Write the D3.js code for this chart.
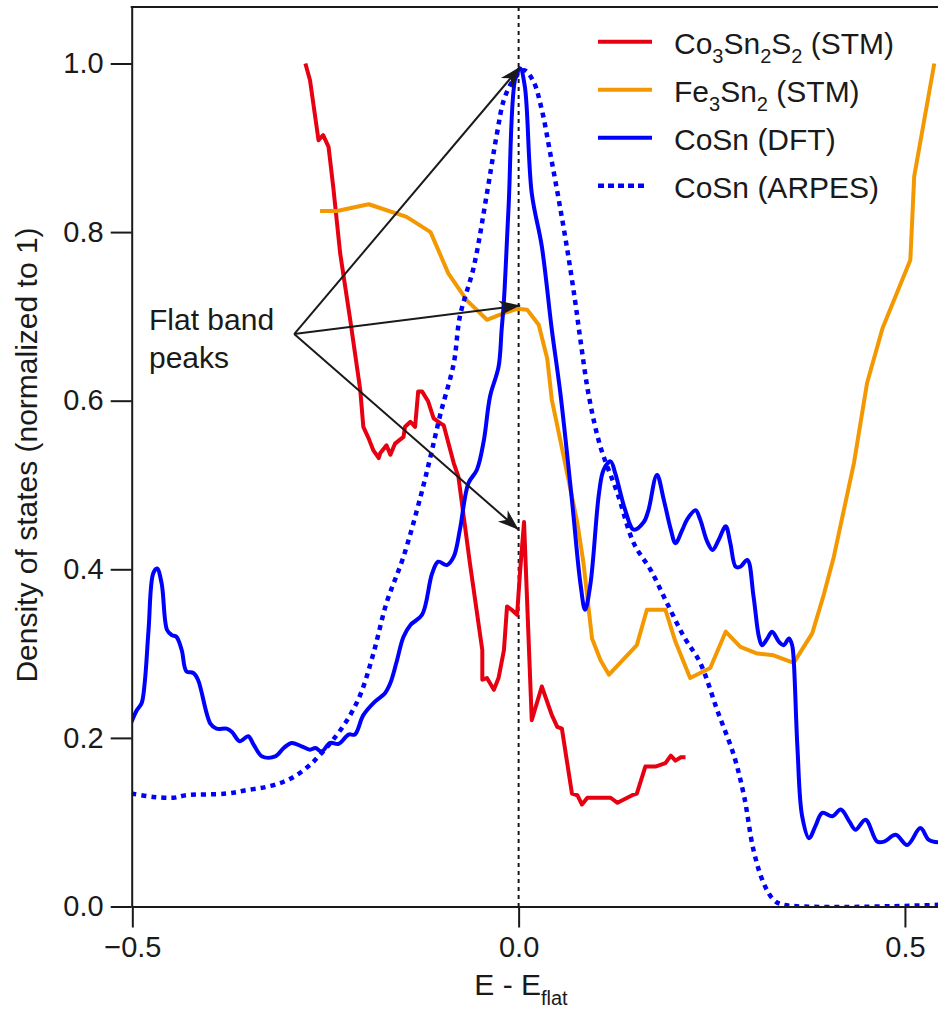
<!DOCTYPE html>
<html>
<head>
<meta charset="utf-8">
<script src="https://cdn.jsdelivr.net/npm/d3@7"></script>
<style>
    body { margin: 0; background: #fff; }
    svg { display: block; }
    text { font-family: "Liberation Sans", Arial, Helvetica, sans-serif; fill: #1a1a1a; }
</style>
</head>
<body>
<div id="chart"></div>
<script>
// [E - E_flat, DOS]
const co3sn2s2Stm = [
    [-0.276, 1.000], [-0.270, 0.980], [-0.259, 0.909], [-0.253, 0.915], [-0.246, 0.901],
    [-0.240, 0.854], [-0.231, 0.775], [-0.218, 0.696], [-0.205, 0.613], [-0.201, 0.569],
    [-0.194, 0.555], [-0.188, 0.541], [-0.181, 0.532], [-0.179, 0.538], [-0.171, 0.547],
    [-0.166, 0.536], [-0.160, 0.549], [-0.149, 0.557], [-0.147, 0.569], [-0.140, 0.575],
    [-0.134, 0.569], [-0.130, 0.611], [-0.125, 0.611], [-0.117, 0.599], [-0.110, 0.579],
    [-0.101, 0.573], [-0.097, 0.571], [-0.084, 0.526], [-0.078, 0.510], [-0.063, 0.407],
    [-0.047, 0.304], [-0.047, 0.269], [-0.041, 0.271], [-0.032, 0.257], [-0.026, 0.271],
    [-0.019, 0.304], [-0.015, 0.356], [-0.009, 0.352], [-0.002, 0.346], [0.002, 0.399],
    [0.007, 0.456], [0.017, 0.221], [0.030, 0.261], [0.043, 0.227], [0.050, 0.213],
    [0.056, 0.211], [0.069, 0.134], [0.076, 0.132], [0.082, 0.121], [0.089, 0.129],
    [0.119, 0.129], [0.128, 0.123], [0.147, 0.132], [0.153, 0.134], [0.164, 0.166],
    [0.177, 0.166], [0.190, 0.170], [0.197, 0.179], [0.203, 0.173], [0.210, 0.177],
    [0.216, 0.177]
];
const fe3sn2Stm = [
    [-0.257, 0.825], [-0.235, 0.825], [-0.194, 0.833], [-0.145, 0.818], [-0.114, 0.800],
    [-0.091, 0.751], [-0.067, 0.719], [-0.041, 0.696], [-0.024, 0.702], [-0.002, 0.709],
    [0.011, 0.708], [0.026, 0.690], [0.037, 0.650], [0.043, 0.601], [0.054, 0.553],
    [0.076, 0.455], [0.084, 0.407], [0.095, 0.318], [0.106, 0.292], [0.117, 0.275],
    [0.153, 0.310], [0.166, 0.352], [0.190, 0.352], [0.203, 0.314], [0.222, 0.271],
    [0.248, 0.283], [0.268, 0.326], [0.287, 0.308], [0.309, 0.300], [0.330, 0.298],
    [0.356, 0.289], [0.380, 0.324], [0.395, 0.370], [0.408, 0.415], [0.434, 0.526],
    [0.451, 0.621], [0.471, 0.686], [0.507, 0.767], [0.512, 0.866], [0.538, 1.000]
];
const cosnDft = [
    [-0.501, 0.219], [-0.494, 0.233], [-0.488, 0.241], [-0.484, 0.265], [-0.479, 0.328],
    [-0.473, 0.395], [-0.468, 0.401], [-0.462, 0.383], [-0.455, 0.328], [-0.449, 0.322],
    [-0.443, 0.320], [-0.436, 0.304], [-0.430, 0.279], [-0.421, 0.277], [-0.415, 0.269],
    [-0.399, 0.217], [-0.391, 0.211], [-0.378, 0.211], [-0.371, 0.207], [-0.361, 0.196],
    [-0.350, 0.202], [-0.343, 0.192], [-0.332, 0.178], [-0.315, 0.178], [-0.304, 0.188],
    [-0.294, 0.194], [-0.281, 0.190], [-0.270, 0.186], [-0.263, 0.188], [-0.255, 0.184],
    [-0.244, 0.194], [-0.233, 0.193], [-0.220, 0.204], [-0.212, 0.204], [-0.201, 0.227],
    [-0.186, 0.243], [-0.173, 0.253], [-0.166, 0.265], [-0.158, 0.290], [-0.149, 0.320],
    [-0.140, 0.334], [-0.125, 0.346], [-0.112, 0.395], [-0.104, 0.409], [-0.093, 0.405],
    [-0.084, 0.415], [-0.076, 0.447], [-0.065, 0.502], [-0.054, 0.518], [-0.045, 0.553],
    [-0.037, 0.605], [-0.026, 0.640], [-0.022, 0.684], [-0.019, 0.719], [-0.013, 0.830],
    [-0.004, 0.984], [0.002, 0.994], [0.008, 0.973], [0.017, 0.846], [0.030, 0.783],
    [0.043, 0.684], [0.054, 0.609], [0.069, 0.482], [0.080, 0.383], [0.086, 0.352],
    [0.093, 0.383], [0.104, 0.490], [0.110, 0.518], [0.119, 0.528], [0.125, 0.514],
    [0.138, 0.470], [0.149, 0.447], [0.162, 0.456], [0.168, 0.470], [0.179, 0.512],
    [0.188, 0.482], [0.197, 0.447], [0.203, 0.431], [0.212, 0.447], [0.218, 0.459],
    [0.229, 0.470], [0.235, 0.459], [0.244, 0.433], [0.251, 0.423], [0.259, 0.435],
    [0.268, 0.451], [0.274, 0.431], [0.281, 0.403], [0.287, 0.403], [0.296, 0.411],
    [0.304, 0.368], [0.311, 0.320], [0.315, 0.310], [0.322, 0.318], [0.328, 0.326],
    [0.337, 0.314], [0.343, 0.310], [0.350, 0.318], [0.354, 0.310], [0.356, 0.293],
    [0.361, 0.186], [0.367, 0.107], [0.376, 0.081], [0.384, 0.095], [0.393, 0.111],
    [0.406, 0.107], [0.417, 0.115], [0.428, 0.101], [0.436, 0.091], [0.449, 0.103],
    [0.464, 0.077], [0.473, 0.077], [0.488, 0.085], [0.503, 0.073], [0.520, 0.093],
    [0.531, 0.079], [0.544, 0.076]
];
const cosnArpes = [
    [-0.501, 0.134], [-0.473, 0.130], [-0.447, 0.129], [-0.430, 0.132], [-0.378, 0.134],
    [-0.352, 0.138], [-0.326, 0.142], [-0.304, 0.148], [-0.287, 0.156], [-0.270, 0.168],
    [-0.257, 0.180], [-0.240, 0.198], [-0.222, 0.221], [-0.205, 0.251], [-0.188, 0.300],
    [-0.171, 0.360], [-0.149, 0.415], [-0.127, 0.486], [-0.114, 0.534], [-0.101, 0.585],
    [-0.084, 0.644], [-0.076, 0.700], [-0.058, 0.759], [-0.041, 0.846], [-0.028, 0.917],
    [-0.019, 0.957], [-0.007, 0.980], [0.007, 0.992], [0.019, 0.979], [0.030, 0.945],
    [0.041, 0.893], [0.052, 0.838], [0.063, 0.779], [0.073, 0.719], [0.080, 0.672],
    [0.091, 0.605], [0.106, 0.545], [0.128, 0.490], [0.149, 0.431], [0.171, 0.399],
    [0.192, 0.360], [0.214, 0.320], [0.235, 0.289], [0.257, 0.233], [0.279, 0.178],
    [0.292, 0.130], [0.304, 0.067], [0.317, 0.028], [0.330, 0.008], [0.343, 0.002],
    [0.544, 0.002]
];

const xTicks = [-0.5, 0.0, 0.5];
const yTicks = [0.0, 0.2, 0.4, 0.6, 0.8, 1.0];
const xDomain = [-0.5008, 0.5428];
const yDomain = [0, 1.067];

// legend entries: label pieces, "s" = subscript
const series = [
    { data: co3sn2s2Stm, color: "#e60012", dash: null, smooth: false,
      label: [["Co"], ["3", "s"], ["Sn"], ["2", "s"], ["S"], ["2", "s"], [" (STM)"]] },
    { data: fe3sn2Stm, color: "#f39800", dash: null, smooth: false,
      label: [["Fe"], ["3", "s"], ["Sn"], ["2", "s"], [" (STM)"]] },
    { data: cosnDft, color: "#0000ff", dash: null, smooth: true,
      label: [["CoSn (DFT)"]] },
    { data: cosnArpes, color: "#0000ff", dash: "5,5", smooth: true,
      label: [["CoSn (ARPES)"]] }
];

// annotation: one source, three peaks
const arrowSource = [-0.2905, 0.679];
const arrowTargets = [[0.002, 0.996], [0.002, 0.713], [0.0, 0.447]];

const width = 938;
const height = 1009;
const margin = { top: 7, right: 0, bottom: 102.5, left: 131.7 };

const svg = d3.select("#chart")
    .append("svg")
    .attr("width", width)
    .attr("height", height);

const x = d3.scaleLinear()
    .domain(xDomain)
    .range([margin.left, width - margin.right]);
const y = d3.scaleLinear()
    .domain(yDomain)
    .range([height - margin.bottom, margin.top]);

const defs = svg.append("defs");
const clip = defs.append("clipPath").attr("id", "plot-clip");
clip.append("rect")
    .attr("x", x.range()[0])
    .attr("y", y.range()[1])
    .attr("width", x.range()[1] - x.range()[0])
    .attr("height", y.range()[0] - y.range()[1]);

defs.append("marker")
    .attr("id", "arrowhead")
    .attr("markerUnits", "userSpaceOnUse")
    .attr("viewBox", "-22 -9 24 18")
    .attr("markerWidth", 24)
    .attr("markerHeight", 18)
    .attr("refX", 0)
    .attr("refY", 0)
    .attr("orient", "auto")
    .append("path")
    .attr("d", "M0,0 L-21,-7.5 L-15,0 L-21,7.5 Z")
    .attr("fill", "#1a1a1a");

// vertical dashed line at E = E_flat
svg.append("line")
    .attr("x1", x(0)).attr("x2", x(0))
    .attr("y1", y.range()[1]).attr("y2", y.range()[0])
    .attr("stroke", "#1a1a1a")
    .attr("stroke-width", 2)
    .attr("stroke-dasharray", "4,4");

const plot = svg.append("g").attr("clip-path", "url(#plot-clip)");

series.forEach(s => {
    const line = d3.line()
        .x(d => x(d[0]))
        .y(d => y(d[1]))
        .curve(s.smooth ? d3.curveCatmullRom.alpha(0.5) : d3.curveLinear);
    plot.append("path")
        .datum(s.data)
        .attr("d", line)
        .attr("fill", "none")
        .attr("stroke", s.color)
        .attr("stroke-width", s.dash ? 4.5 : 4)
        .attr("stroke-linejoin", "round")
        .attr("stroke-dasharray", s.dash);
});

// arrows
svg.selectAll(".arrow")
    .data(arrowTargets)
    .join("line")
    .attr("class", "arrow")
    .attr("x1", x(arrowSource[0]))
    .attr("y1", y(arrowSource[1]))
    .attr("x2", d => x(d[0]))
    .attr("y2", d => y(d[1]))
    .attr("stroke", "#1a1a1a")
    .attr("stroke-width", 2)
    .attr("marker-end", "url(#arrowhead)");

const note = svg.append("text")
    .attr("font-size", "30px");
note.append("tspan").attr("x", 149).attr("y", 330).text("Flat band");
note.append("tspan").attr("x", 149).attr("y", 368).text("peaks");

// axes
const yAxis = svg.append("g")
    .attr("transform", `translate(${margin.left},0)`)
    .call(d3.axisLeft(y)
        .tickValues(yTicks)
        .tickFormat(d3.format(".1f"))
        .tickSize(21)
        .tickSizeOuter(0)
        .tickPadding(7));
const xAxis = svg.append("g")
    .attr("transform", `translate(0,${height - margin.bottom})`)
    .call(d3.axisBottom(x)
        .tickValues(xTicks)
        .tickFormat(d3.format(".1f"))
        .tickSize(21)
        .tickSizeOuter(0)
        .tickPadding(9));
[xAxis, yAxis].forEach(a => {
    a.selectAll("path, line").attr("stroke", "#1a1a1a").attr("stroke-width", 2);
    a.selectAll("text")
        .attr("font-size", "29px")
        .attr("font-family", "\"Liberation Sans\", Arial, sans-serif")
        .attr("fill", "#1a1a1a");
});

// top frame line
svg.append("line")
    .attr("x1", x.range()[0] - 1).attr("x2", width)
    .attr("y1", y.range()[1]).attr("y2", y.range()[1])
    .attr("stroke", "#1a1a1a")
    .attr("stroke-width", 2);

// axis labels
svg.append("text")
    .attr("transform", `translate(37,455) rotate(-90)`)
    .attr("text-anchor", "middle")
    .attr("font-size", "30px")
    .text("Density of states (normalized to 1)");

const xLabel = svg.append("text")
    .attr("x", 521)
    .attr("y", 995)
    .attr("text-anchor", "middle")
    .attr("font-size", "30px");
xLabel.append("tspan").text("E - E");
xLabel.append("tspan").attr("dy", 10).attr("font-size", "20px").text("flat");

// legend
const legend = svg.append("g");
series.forEach((s, i) => {
    const ly = 41.7 + i * 48;
    legend.append("line")
        .attr("x1", 598).attr("x2", s.dash ? 648 : 652)
        .attr("y1", ly).attr("y2", ly)
        .attr("stroke", s.color)
        .attr("stroke-width", s.dash ? 4.5 : 4)
        .attr("stroke-dasharray", s.dash ? "6,4" : null);
    const t = legend.append("text")
        .attr("x", 674)
        .attr("y", ly + 12)
        .attr("font-size", "30px");
    let shifted = false;
    s.label.forEach(([str, kind]) => {
        const sp = t.append("tspan").text(str);
        if (kind === "s" && !shifted) {
            sp.attr("dy", 9).attr("font-size", "20px");
            shifted = true;
        } else if (kind === "s") {
            sp.attr("font-size", "20px");
        } else if (shifted) {
            sp.attr("dy", -9);
            shifted = false;
        }
    });
});
</script>
</body>
</html>
